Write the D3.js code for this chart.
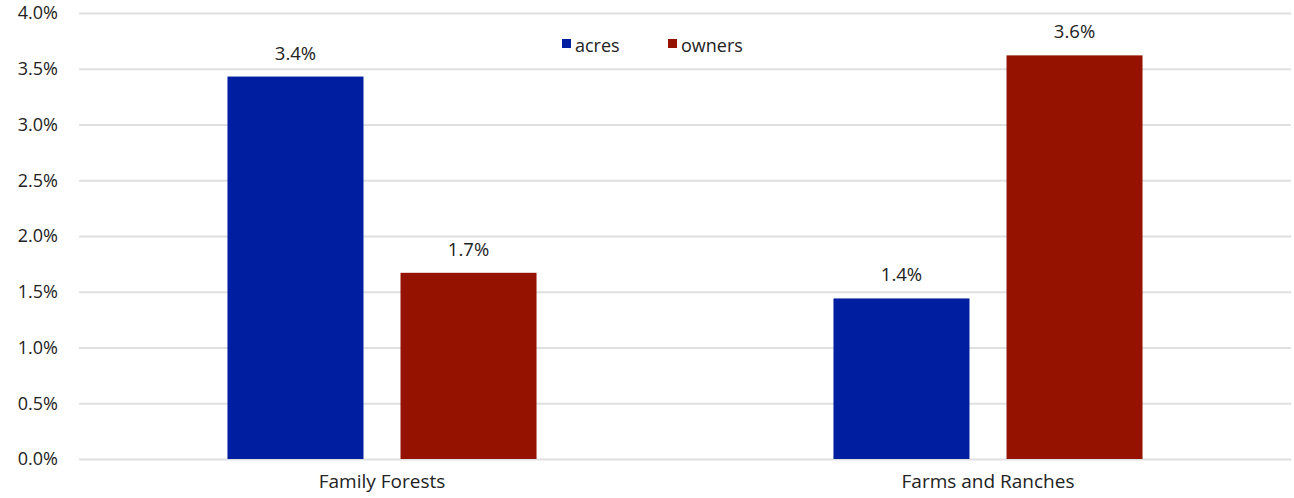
<!DOCTYPE html>
<html><head><meta charset="utf-8">
<script src="https://cdn.jsdelivr.net/npm/d3@7"></script>
<style>body{margin:0;background:#fff}text{font-family:"Open Sans","Noto Sans",sans-serif;fill:#222}</style>
</head><body><svg id="c" width="1294" height="498"></svg>
<script>
const categories = ["Family Forests", "Farms and Ranches"];
const seriesNames = ["acres", "owners"];
const acres = [3.43, 1.44];
const owners = [1.67, 3.62];
const seriesColors = ["#001ea0", "#961200"];
const yTicks = [0, 0.5, 1, 1.5, 2, 2.5, 3, 3.5, 4];

const svg = d3.select("#c");
const m = {l: 79, r: 3, t: 13, b: 39};
const W = 1294, H = 498;
const x = d3.scaleBand().domain(categories).range([m.l, W - m.r]);
const xi = d3.scaleBand().domain(seriesNames).range([0, x.bandwidth()]).paddingInner(0.214).paddingOuter(0.858);
const y = d3.scaleLinear().domain([0, 4]).range([H - m.b, m.t]);

const gy = svg.append("g").attr("transform", `translate(${m.l},0)`)
  .call(d3.axisLeft(y).tickValues(yTicks).tickSize(-(W - m.l - m.r)).tickFormat(d => d3.format(".1f")(d) + "%"));
gy.select(".domain").remove();
gy.selectAll(".tick line").attr("stroke", "#e0e0e0").attr("stroke-width", 2);
gy.selectAll(".tick text").attr("x", -21).attr("font-size", 18).attr("fill", "#222");

const data = categories.map((c, i) => ({c, vals: [acres[i], owners[i]]}));
const g = svg.selectAll(".grp").data(data).join("g").attr("transform", d => `translate(${x(d.c)},0)`);
g.selectAll("rect").data(d => d.vals.map((v, j) => ({v, s: seriesNames[j], j}))).join("rect")
  .attr("x", d => xi(d.s)).attr("width", xi.bandwidth())
  .attr("y", d => y(d.v)).attr("height", d => y(0) - y(d.v))
  .attr("fill", d => seriesColors[d.j]);
g.selectAll(".lbl").data(d => d.vals.map((v, j) => ({v, s: seriesNames[j]}))).join("text")
  .attr("x", d => xi(d.s) + xi.bandwidth() / 2).attr("y", d => y(d.v) - 17)
  .attr("text-anchor", "middle").attr("font-size", 18.5)
  .text(d => d3.format(".1f")(d.v) + "%");

const gx = svg.append("g").attr("transform", `translate(0,${H - m.b})`)
  .call(d3.axisBottom(x).tickSize(0).tickPadding(16));
gx.select(".domain").remove();
gx.selectAll(".tick text").attr("font-size", 19).attr("fill", "#222");

const legX = [562, 668];
const lg = svg.selectAll(".leg").data(seriesNames).join("g").attr("transform", (d, i) => `translate(${legX[i]},39)`);
lg.append("rect").attr("width", 9).attr("height", 9).attr("fill", (d, i) => seriesColors[i]);
lg.append("text").attr("x", 13).attr("y", 9).attr("dy", "0.2em").attr("font-size", 18).text(d => d);
</script></body></html>
